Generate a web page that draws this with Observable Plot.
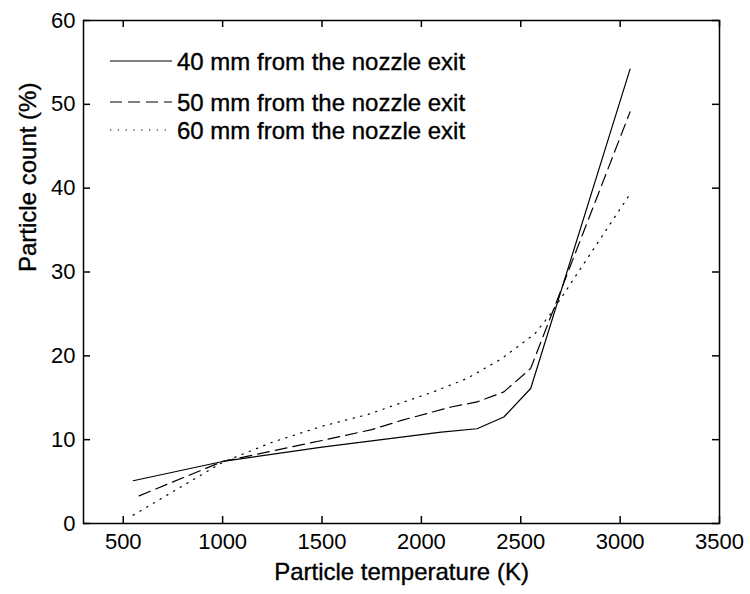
<!DOCTYPE html>
<html>
<head>
<meta charset="utf-8">
<script src="https://cdn.jsdelivr.net/npm/d3@7"></script>
<script src="https://cdn.jsdelivr.net/npm/@observablehq/plot@0.6"></script>
<style>
  html, body { margin: 0; padding: 0; background: #fff; }
  svg { display: block; }
</style>
</head>
<body>
<div id="chart"></div>
<script>
// Series: particle temperature (K) vs particle count (%)
const temp40 = [550, 1000, 1500, 2000, 2100, 2280, 2415, 2550, 3050];
const count40 = [5.1, 7.4, 9.1, 10.6, 10.9, 11.3, 12.7, 16.1, 54.2];

const temp50 = [580, 1000, 1500, 1750, 1900, 2150, 2280, 2415, 2550, 3050];
const count50 = [3.3, 7.4, 9.9, 11.2, 12.3, 13.9, 14.5, 15.7, 18.5, 49.1];

const temp60 = [550, 1000, 1250, 1500, 1730, 1900, 2060, 2230, 2400, 2570, 2650, 3050];
const count60 = [1.0, 7.3, 9.7, 11.6, 13.0, 14.4, 15.7, 17.3, 19.6, 22.6, 25.0, 39.3];

const seriesNames = ["40 mm from the nozzle exit", "50 mm from the nozzle exit", "60 mm from the nozzle exit"];
const xTicks = [500, 1000, 1500, 2000, 2500, 3000, 3500];
const yTicks = [0, 10, 20, 30, 40, 50, 60];
const xLabel = "Particle temperature (K)";
const yLabel = "Particle count (%)";

const dashes = [null, "12,6", "1.3,6.5"];

const toRows = (xs, ys) => xs.map((x, i) => ({x, y: ys[i]}));
const series = [toRows(temp40, count40), toRows(temp50, count50), toRows(temp60, count60)];

const W = 750, H = 594;
const mL = 83, mR = 31, mT = 20, mB = 71;
const fw = W - mL - mR, fh = H - mT - mB;
const tick = 7;
const font = "Liberation Sans, Arial, Helvetica, sans-serif";
const textStroke = 0.35;

function legend(index, scales, values, dims) {
  const g = d3.create("svg:g");
  const x0 = dims.marginLeft + 27, x1 = dims.marginLeft + 89, xt = dims.marginLeft + 94;
  const rowsY = [dims.marginTop + 41, dims.marginTop + 82, dims.marginTop + 110];
  seriesNames.forEach((name, i) => {
    g.append("line")
      .attr("x1", x0).attr("x2", x1)
      .attr("y1", rowsY[i]).attr("y2", rowsY[i])
      .attr("stroke", "#000").attr("stroke-width", 1.2)
      .attr("stroke-dasharray", dashes[i]);
    g.append("text")
      .attr("x", xt).attr("y", rowsY[i])
      .attr("dy", "0.36em")
      .attr("text-anchor", "start")
      .attr("font-family", font).attr("font-size", 24)
      .attr("fill", "#000")
      .attr("stroke", "#000").attr("stroke-width", textStroke)
      .text(name);
  });
  return g.node();
}

const marks = [
  ...series.map((s, i) => Plot.line(s, {x: "x", y: "y", stroke: "#000", strokeWidth: 1.2, strokeDasharray: dashes[i]})),
  // inward ticks on all four sides
  Plot.tickX(xTicks, {x: d => d, insetTop: fh - tick, stroke: "#000", strokeWidth: 1.5}),
  Plot.tickX(xTicks, {x: d => d, insetBottom: fh - tick, stroke: "#000", strokeWidth: 1.5}),
  Plot.tickY(yTicks, {y: d => d, insetRight: fw - tick, stroke: "#000", strokeWidth: 1.5}),
  Plot.tickY(yTicks, {y: d => d, insetLeft: fw - tick, stroke: "#000", strokeWidth: 1.5}),
  Plot.axisX(xTicks, {tickSize: 0, tickPadding: 10, fontSize: 22, fill: "#000", stroke: "#000", strokeWidth: textStroke, tickFormat: d3.format("d"), label: null}),
  Plot.axisY(yTicks, {tickSize: 0, tickPadding: 8, fontSize: 22, fill: "#000", stroke: "#000", strokeWidth: textStroke, tickFormat: d3.format("d"), label: null}),
  Plot.text([xLabel], {text: d => d, frameAnchor: "bottom", dy: 56, fontSize: 24, fill: "#000", stroke: "#000", strokeWidth: textStroke}),
  Plot.text([yLabel], {text: d => d, frameAnchor: "left", dx: -55, rotate: -90, fontSize: 24, fill: "#000", stroke: "#000", strokeWidth: textStroke}),
  Plot.frame({stroke: "#000", strokeWidth: 1.5}),
  legend
];

const chart = Plot.plot({
  width: W,
  height: H,
  marginLeft: mL,
  marginRight: mR,
  marginTop: mT,
  marginBottom: mB,
  x: {domain: [300, 3500], axis: null},
  y: {domain: [0, 60], axis: null},
  style: {fontFamily: font, background: "#fff", color: "#000", overflow: "visible"},
  marks
});
document.getElementById("chart").appendChild(chart);
</script>
</body>
</html>
